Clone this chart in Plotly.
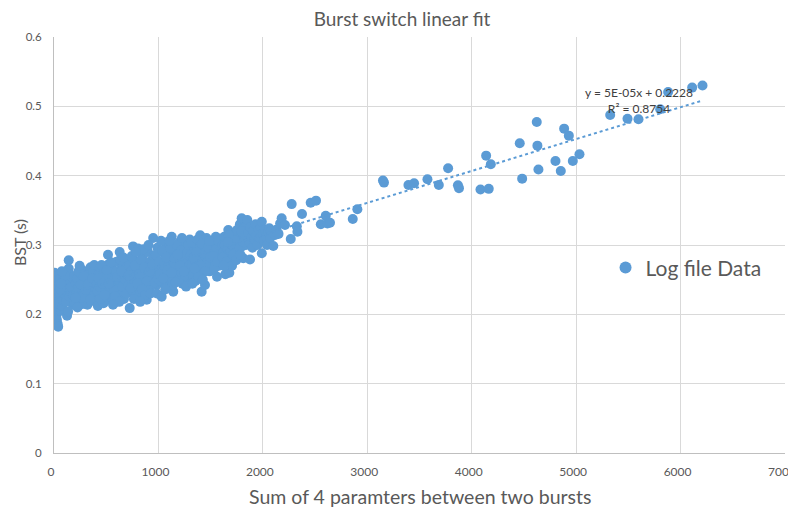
import plotly.graph_objects as go
import numpy as np

# ---- data ----
x_col_a = [5, 10, 20, 8, 15, 25, 12, 30, 5, 18, 10, 22, 28, 35, 40, 45, 50, 55, 60, 38]
y_col_a = [0.260, 0.255, 0.248, 0.240, 0.236, 0.230, 0.224, 0.218, 0.212, 0.208, 0.203, 0.198, 0.192, 0.186, 0.182, 0.225, 0.232, 0.244, 0.252, 0.215]

x_col_b = [70, 80, 90, 100, 110, 120, 130, 141, 141, 150, 160, 170, 180, 190, 200, 85, 95, 115, 125, 135, 145, 155, 165, 175, 185, 195, 105, 75, 62, 68]
y_col_b = [0.205, 0.212, 0.220, 0.228, 0.235, 0.242, 0.250, 0.266, 0.278, 0.258, 0.231, 0.222, 0.214, 0.244, 0.236, 0.248, 0.240, 0.218, 0.198, 0.204, 0.226, 0.249, 0.239, 0.253, 0.228, 0.218, 0.256, 0.262, 0.236, 0.244]

x_col_c = [210, 220, 230, 240, 250, 260, 270, 280, 290, 300, 310, 320, 330, 340, 350, 360, 370, 380, 390, 400, 215, 235, 255, 275, 295, 315, 335, 355, 375, 395, 225, 265, 305, 345, 385, 245, 285, 325, 365, 205]
y_col_c = [0.245, 0.252, 0.238, 0.228, 0.219, 0.258, 0.264, 0.232, 0.242, 0.250, 0.222, 0.214, 0.236, 0.260, 0.268, 0.247, 0.229, 0.240, 0.255, 0.218, 0.231, 0.262, 0.243, 0.215, 0.226, 0.256, 0.247, 0.232, 0.262, 0.238, 0.210, 0.224, 0.235, 0.221, 0.271, 0.270, 0.255, 0.243, 0.252, 0.224]

x_col_d = [410, 420, 430, 440, 450, 460, 470, 480, 490, 500, 510, 517, 520, 530, 540, 550, 560, 570, 580, 590, 600, 610, 620, 629, 630, 640, 650, 660, 670, 680, 690, 700, 415, 435, 455, 475, 495, 515, 535, 555, 575, 595, 615, 635, 655, 675, 695, 425, 465, 505, 545, 585, 625, 665, 685, 445, 485, 525, 565, 605, 645]
y_col_d = [0.244, 0.212, 0.258, 0.268, 0.232, 0.226, 0.250, 0.262, 0.239, 0.221, 0.247, 0.286, 0.272, 0.255, 0.236, 0.228, 0.265, 0.244, 0.252, 0.218, 0.276, 0.238, 0.260, 0.290, 0.246, 0.232, 0.268, 0.255, 0.222, 0.241, 0.274, 0.258, 0.234, 0.240, 0.271, 0.216, 0.256, 0.230, 0.266, 0.248, 0.234, 0.262, 0.250, 0.279, 0.240, 0.264, 0.230, 0.252, 0.244, 0.264, 0.275, 0.226, 0.218, 0.282, 0.250, 0.222, 0.228, 0.244, 0.214, 0.254, 0.262]

x_col_e = [710, 720, 725, 730, 740, 750, 757, 760, 770, 780, 790, 800, 805, 810, 820, 830, 840, 850, 860, 870, 880, 888, 890, 900, 910, 920, 930, 940, 950, 951, 960, 970, 980, 990, 1000, 715, 735, 745, 765, 775, 795, 815, 835, 845, 865, 875, 895, 915, 925, 945, 965, 975, 995, 855, 905, 985, 785, 825]
y_col_e = [0.242, 0.270, 0.209, 0.252, 0.262, 0.234, 0.298, 0.280, 0.248, 0.226, 0.266, 0.256, 0.295, 0.240, 0.274, 0.232, 0.262, 0.284, 0.250, 0.244, 0.270, 0.221, 0.258, 0.290, 0.236, 0.276, 0.264, 0.248, 0.310, 0.284, 0.258, 0.270, 0.242, 0.296, 0.262, 0.256, 0.238, 0.284, 0.222, 0.270, 0.244, 0.258, 0.278, 0.236, 0.268, 0.228, 0.248, 0.262, 0.230, 0.272, 0.246, 0.286, 0.252, 0.294, 0.300, 0.230, 0.290, 0.218]

x_col_f = [1010, 1020, 1031, 1040, 1050, 1060, 1070, 1080, 1090, 1100, 1110, 1120, 1127, 1130, 1142, 1150, 1160, 1170, 1180, 1190, 1200, 1210, 1220, 1230, 1240, 1250, 1260, 1270, 1280, 1290, 1300, 1015, 1035, 1055, 1075, 1095, 1115, 1135, 1155, 1175, 1195, 1215, 1235, 1255, 1275, 1295, 1025, 1065, 1105, 1145, 1185, 1225, 1265, 1045, 1085, 1125, 1165, 1205, 1245, 1285]
y_col_f = [0.276, 0.248, 0.2255, 0.268, 0.288, 0.256, 0.240, 0.300, 0.272, 0.262, 0.246, 0.284, 0.312, 0.270, 0.2327, 0.258, 0.292, 0.276, 0.250, 0.266, 0.304, 0.282, 0.260, 0.244, 0.290, 0.272, 0.298, 0.262, 0.280, 0.252, 0.308, 0.258, 0.292, 0.270, 0.282, 0.252, 0.296, 0.242, 0.280, 0.300, 0.248, 0.292, 0.274, 0.256, 0.290, 0.270, 0.306, 0.236, 0.306, 0.268, 0.286, 0.310, 0.240, 0.252, 0.264, 0.260, 0.246, 0.270, 0.262, 0.300]

x_col_g = [1310, 1320, 1330, 1340, 1350, 1360, 1370, 1380, 1390, 1400, 1410, 1414, 1420, 1430, 1440, 1446, 1450, 1460, 1470, 1480, 1490, 1500, 1510, 1520, 1530, 1540, 1550, 1561, 1570, 1580, 1590, 1600, 1315, 1335, 1355, 1375, 1395, 1415, 1435, 1455, 1475, 1495, 1515, 1535, 1555, 1575, 1595, 1325, 1365, 1405, 1445, 1485, 1525, 1565, 1345, 1385, 1425]
y_col_g = [0.286, 0.270, 0.256, 0.296, 0.278, 0.300, 0.264, 0.288, 0.274, 0.314, 0.292, 0.2327, 0.280, 0.266, 0.300, 0.2423, 0.284, 0.310, 0.276, 0.294, 0.262, 0.304, 0.288, 0.272, 0.298, 0.282, 0.312, 0.2543, 0.290, 0.270, 0.300, 0.284, 0.304, 0.282, 0.248, 0.308, 0.258, 0.302, 0.288, 0.270, 0.296, 0.282, 0.306, 0.266, 0.294, 0.306, 0.276, 0.244, 0.290, 0.270, 0.262, 0.306, 0.284, 0.276, 0.266, 0.254, 0.250]

x_col_h = [1610, 1620, 1630, 1641, 1650, 1660, 1669, 1679, 1680, 1690, 1700, 1710, 1720, 1730, 1740, 1750, 1760, 1770, 1780, 1790, 1797, 1800, 1810, 1813, 1820, 1830, 1840, 1851, 1615, 1635, 1655, 1675, 1695, 1715, 1735, 1755, 1775, 1795, 1815, 1835, 1705, 1745, 1785, 1625, 1665]
y_col_h = [0.300, 0.290, 0.312, 0.2577, 0.296, 0.286, 0.3216, 0.260, 0.304, 0.292, 0.280, 0.310, 0.298, 0.288, 0.318, 0.302, 0.294, 0.312, 0.330, 0.306, 0.3385, 0.298, 0.318, 0.281, 0.308, 0.326, 0.300, 0.336, 0.282, 0.300, 0.276, 0.314, 0.302, 0.286, 0.306, 0.322, 0.296, 0.320, 0.304, 0.314, 0.270, 0.278, 0.286, 0.270, 0.304]

x_col_i = [1860, 1870, 1877, 1880, 1890, 1900, 1910, 1920, 1930, 1940, 1950, 1960, 1970, 1980, 1990, 1990, 2000, 2010, 2020, 2030, 2040, 2050, 2062, 2070, 2080, 2100, 2117, 2130, 2150]
y_col_i = [0.318, 0.304, 0.279, 0.326, 0.312, 0.296, 0.320, 0.308, 0.330, 0.314, 0.300, 0.322, 0.310, 0.326, 0.3336, 0.288, 0.316, 0.306, 0.322, 0.312, 0.300, 0.318, 0.324, 0.310, 0.320, 0.2986, 0.3144, 0.322, 0.316]

x_sparse = [2165, 2180, 2212, 2267, 2276, 2325, 2331, 2375, 2458, 2509, 2555, 2602, 2618, 2643, 2861, 2905,
            3150, 3160, 3394, 3448, 3576, 3685, 3774, 3868, 3878, 4084, 4163, 4138, 4183, 4460, 4483,
            4623, 4629, 4639, 4802, 4853, 4885, 4930, 4968, 5032, 5326, 5492, 5597, 5805, 5881, 6111, 6210]
y_sparse = [0.331, 0.3385, 0.3289, 0.3087, 0.359, 0.327, 0.319, 0.3447, 0.361, 0.364, 0.330, 0.3423, 0.331, 0.332, 0.3375, 0.3515,
            0.393, 0.390, 0.3866, 0.389, 0.3948, 0.3866, 0.4106, 0.386, 0.382, 0.380, 0.381, 0.4289, 0.4164, 0.4467, 0.3957,
            0.4774, 0.4433, 0.409, 0.4212, 0.4068, 0.4678, 0.4577, 0.4212, 0.4308, 0.4875, 0.4822, 0.4813, 0.4957, 0.5207, 0.527, 0.530]

trend_intercept = 0.2228
trend_slope = 4.6e-05
trend_label = "y = 5E-05x + 0.2228<br>R² = 0.8754"

x_ticks = [0, 1000, 2000, 3000, 4000, 5000, 6000, 7000]
y_ticks = [0, 0.1, 0.2, 0.3, 0.4, 0.5, 0.6]
y_tick_text = ["0", "0.1", "0.2", "0.3", "0.4", "0.5", "0.6"]

# ---- assemble ----
xs = (x_col_a + x_col_b + x_col_c + x_col_d + x_col_e + x_col_f + x_col_g + x_col_h + x_col_i + x_sparse)
ys = (y_col_a + y_col_b + y_col_c + y_col_d + y_col_e + y_col_f + y_col_g + y_col_h + y_col_i + y_sparse)

blue = "#5B9BD5"
gray_txt = "#595959"
font_family = "Lato, 'Open Sans', sans-serif"

fig = go.Figure()
fig.add_trace(go.Scatter(
    x=xs, y=ys, mode="markers", name="Log file Data",
    marker=dict(color=blue, size=10, line=dict(width=0)),
))
tx = np.array([min(xs), max(xs)], dtype=float)
fig.add_trace(go.Scatter(
    x=tx, y=trend_intercept + trend_slope * tx, mode="lines",
    line=dict(color=blue, width=2, dash="dot"), showlegend=False, hoverinfo="skip",
))

fig.add_annotation(
    x=5605, y=0.509, xref="x", yref="y", text=trend_label, showarrow=False,
    font=dict(family=font_family, size=12, color="#404040"), align="center",
)
# axis titles placed as text
fig.add_annotation(
    x=0.5, y=-0.104, xref="paper", yref="paper",
    text="Sum of 4 paramters between two bursts", showarrow=False,
    xanchor="center", yanchor="middle",
    font=dict(family=font_family, size=19.5, color=gray_txt),
)
fig.add_annotation(
    x=0, y=0.5, xref="paper", yref="paper", xshift=-35, yshift=2,
    text="BST (s)", showarrow=False, textangle=-90,
    xanchor="center", yanchor="middle",
    font=dict(family=font_family, size=16, color=gray_txt),
)

# the page body adds an 8px offset, so the figure is drawn 8px smaller
fig.update_layout(
    width=788, height=501,
    margin=dict(l=46, r=11, t=29, b=56, autoexpand=False),
    paper_bgcolor="white", plot_bgcolor="white",
    font=dict(family=font_family, color=gray_txt),
    title=dict(text="Burst switch linear fit", x=0.5, xanchor="center",
               y=0.977, yanchor="middle", automargin=False,
               font=dict(size=19, color=gray_txt)),
    legend=dict(x=0.7545, y=0.445, xanchor="left", yanchor="middle",
                bgcolor="rgba(0,0,0,0)", font=dict(size=21, color=gray_txt),
                itemsizing="constant"),
    showlegend=True,
)
fig.update_xaxes(
    range=[0, 7000], tickvals=x_ticks, ticktext=[str(v) for v in x_ticks],
    showgrid=True, gridcolor="#D9D9D9", gridwidth=1, automargin=False,
    showline=True, linecolor="#BFBFBF", linewidth=1, zeroline=False,
    tickfont=dict(size=12, color=gray_txt), ticks="", ticklabeloverflow="allow",
    ticklabelstandoff=8, ticklabelshift=-3,
)
fig.update_yaxes(
    range=[0, 0.6], tickvals=y_ticks, ticktext=y_tick_text,
    showgrid=True, gridcolor="#D9D9D9", gridwidth=1, automargin=False,
    showline=True, linecolor="#BFBFBF", linewidth=1, zeroline=False,
    tickfont=dict(size=11.5, color=gray_txt), ticks="", ticklabeloverflow="allow",
    ticklabelstandoff=9,
)

fig.write_html("out.html")
